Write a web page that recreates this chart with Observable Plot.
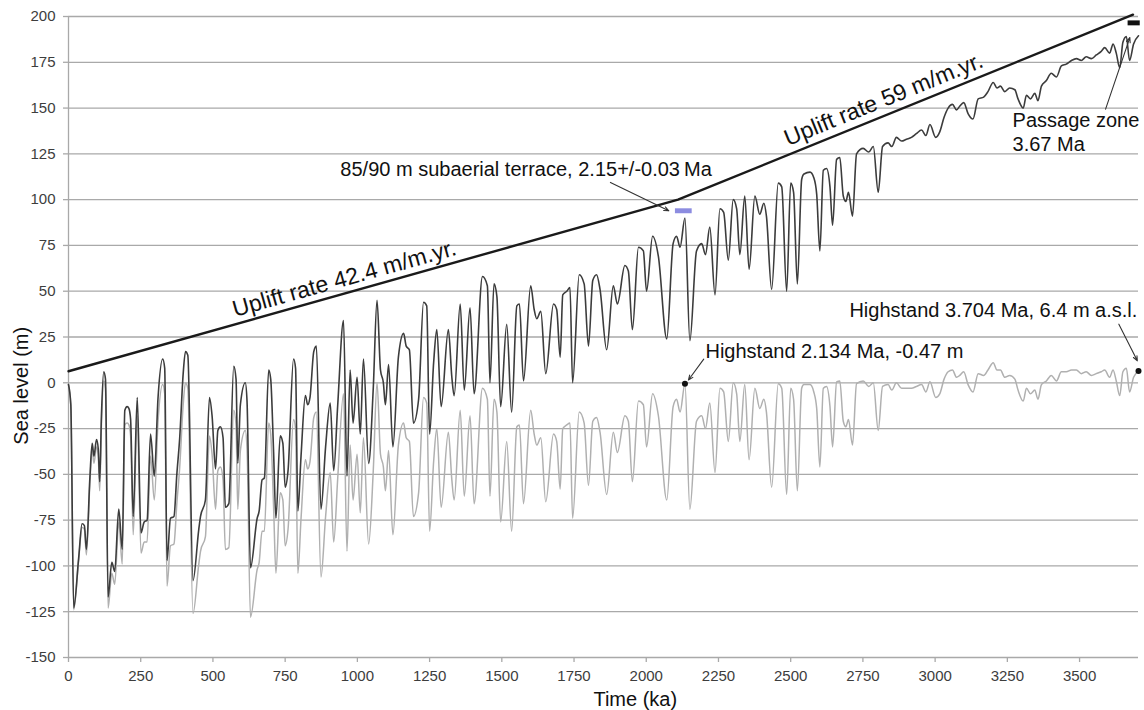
<!DOCTYPE html>
<html>
<head>
<meta charset="utf-8">
<script src="https://cdn.jsdelivr.net/npm/d3@7"></script>
<script src="https://cdn.jsdelivr.net/npm/@observablehq/plot@0.6"></script>
<style>
  html, body { margin: 0; padding: 0; background: #fff; }
  #chart svg { display: block; }
</style>
</head>
<body>
<div id="chart"></div>
<script>
// Time (ka)
const time = [
  0,8,18,35,47,55,62,74,82,88,
  97,103,108,114,122,128,137,150,160,174,
  186,195,203,209,215,224,238,251,262,272,
  284,297,310,326,333,341,353,365,375,385,
  397,405,413,431,451,457,474,488,497,509,
  517,526,535,543,555,572,580,586,595,612,
  618,630,653,660,670,678,693,700,710,718,
  733,742,750,760,779,786,794,805,820,828,
  836,849,858,874,890,906,918,932,952,964,
  975,985,999,1010,1021,1039,1055,1068,1080,1090,
  1097,1108,1123,1142,1160,1169,1180,1194,1212,1229,
  1240,1250,1264,1275,1290,1315,1327,1335,1356,1370,
  1390,1404,1433,1450,1459,1473,1483,1496,1517,1534,
  1552,1561,1575,1600,1612,1621,1635,1652,1679,1690,
  1702,1711,1725,1736,1745,1768,1785,1800,1815,1828,
  1840,1863,1886,1900,1926,1938,1952,1973,1990,2001,
  2022,2042,2071,2093,2105,2117,2134,2151,2174,2192,
  2205,2220,2238,2255,2268,2284,2301,2313,2324,2341,
  2356,2376,2393,2407,2416,2434,2457,2469,2486,2500,
  2510,2523,2538,2546,2567,2580,2590,2601,2613,2624,
  2636,2645,2659,2670,2682,2691,2700,2714,2728,2751,
  2770,2786,2803,2818,2837,2850,2866,2884,2901,2918,
  2935,2953,2968,2982,3002,3016,3031,3045,3060,3074,
  3085,3099,3114,3131,3149,3168,3183,3201,3214,3226,
  3241,3258,3276,3287,3305,3316,3330,3345,3356,3368,
  3385,3402,3420,3437,3454,3472,3489,3506,3523,3541,
  3558,3575,3587,3604,3616,3627,3639,3650,3662,3673,
  3687,3704
];

// Eustatic sea level (m) – light grey curve
const seaLevel = [
  -1,-12,-124,-97,-79,-80,-94,-55,-36,-44,
  -35,-40,-59,-23,1,-3,-123,-104,-110,-76,
  -99,-23,-22,-23,-29,-83,-18,-93,-87,-87,
  -40,-64,-21,-1,-6,-111,-89,-88,-66,-46,
  -12,0,-3,-126,-99,-92,-84,-29,-39,-69,
  -48,-46,-53,-91,-90,-15,-23,-69,-37,-26,
  -36,-128,-102,-98,-81,-81,-22,-28,-68,-104,
  -60,-64,-89,-80,-20,-25,-104,-74,-42,-47,
  -43,-19,-16,-106,-73,-49,-87,-52,-6,-92,
  -34,-64,-39,-71,-30,-88,-48,0,-39,-46,
  -59,-37,-83,-34,-22,-30,-32,-73,-60,-8,
  -11,-81,-43,-25,-68,-27,-53,-64,-15,-62,
  -18,-66,-3,-9,-62,-9,-16,-76,-32,-81,
  -24,-23,-66,-15,-28,-34,-30,-65,-28,-32,
  -58,-25,-23,-22,-74,-16,-22,-56,-21,-19,
  -27,-61,-27,-38,-18,-21,-54,-10,-12,-35,
  -6,-18,-64,-13,-9,-16,-0.47,-69,-21,-18,
  -25,-11,-49,-3,-5,-32,0,-6,-32,-1,
  -42,-3,-14,-9,-16,-57,-0.5,-3,-61,-3,
  -9,-59,-3,-1,-1,-5,-14,-46,-3,-2,
  -13,-35,0.5,1,-21,-24,-20,-34,-0.5,1,
  -2,0,-26,-2,-1,-4,0,-3,-3,-3,
  -2,-1,-5,0.5,-8,-6,2,6,7,3,
  4,6,-1,-5,5,4,7,11,7,7,
  3,4,2,-4,-10,-3,-6,-4,-9,-1,
  1,4,1,6,6,7,7,5,6,4,
  5,6,7,3,7,1,-7,6,8,-5,
  3,6.4
];

// Uplifted sea level (m) – dark grey curve
const upliftedSeaLevel = [
  -1,-12,-123,-96,-77,-78,-91,-52,-33,-40,
  -31,-36,-54,-18,6,2,-117,-98,-103,-69,
  -91,-15,-13,-14,-20,-73,-8,-82,-76,-75,
  -28,-51,-8,13,8,-97,-74,-73,-50,-30,
  5,17,15,-108,-80,-73,-64,-8,-18,-47,
  -26,-24,-30,-68,-66,9,2,-44,-12,0,
  -10,-101,-74,-70,-53,-52,7,2,-38,-74,
  -29,-33,-57,-48,13,8,-70,-40,-7,-12,
  -8,17,20,-69,-35,-11,-48,-12,34,-51,
  7,-22,3,-28,13,-44,-3,45,7,0,
  -12,10,-35,14,27,20,18,-22,-9,44,
  42,-28,11,29,-13,29,3,-7,43,-4,
  41,-6,58,53,0,54,47,-13,32,-16,
  42,43,1,53,40,35,39,5,43,40,
  14,48,50,52,0,59,54,20,56,59,
  51,18,53,43,64,61,29,74,72,50,
  80,69,24,76,80,74,90,23,72,76,
  70,85,48,95,93,67,100,95,70,102,
  62,102,92,98,91,51,109,107,50,109,
  104,54,111,114,115,112,103,72,116,117,
  107,86,122,123,102,99,104,91,125,128,
  126,129,104,129,131,129,134,132,133,134,
  136,138,135,141,134,137,145,150,152,149,
  151,153,147,144,155,156,159,164,161,162,
  159,161,160,155,150,157,155,158,154,162,
  165,169,167,173,174,176,177,176,178,177,
  179,181,183,180,185,180,172,186,189,176,
  185,189.5
];

// Uplift rate line (black)
const upliftTime = [0, 2110, 3685];
const upliftLevel = [6.3, 100, 201];

// Axis ticks
const xTicks = [0,250,500,750,1000,1250,1500,1750,2000,2250,2500,2750,3000,3250,3500];
const yTicks = [-150,-125,-100,-75,-50,-25,0,25,50,75,100,125,150,175,200];

// Highstand markers
const highstandTime = [2134, 3704];
const highstandLevel = [-0.47, 6.4];

const rows = time.map((t, i) => ({t, sea: seaLevel[i], up: upliftedSeaLevel[i]}));
const upliftRows = upliftTime.map((t, i) => ({t, v: upliftLevel[i]}));
const highstands = highstandTime.map((t, i) => ({t, v: highstandLevel[i]}));

const terrace = [{x1: 2101, x2: 2159, y1: 92.3, y2: 95.0}];
const passageBar = [{x1: 3668, x2: 3710, y1: 194.9, y2: 197.6}];

const arrows = [
  {x1: 1876, y1: 109.4, x2: 2078, y2: 93.9},
  {x1: 2199, y1: 12.9, x2: 2146, y2: 1.5},
  {x1: 3636, y1: 32, x2: 3700, y2: 12},
  {x1: 3590, y1: 149.4, x2: 3674, y2: 188.5}
];

const notesMiddle = [
  {t: 941, v: 116.5, text: "85/90 m subaerial terrace, 2.15+/-0.03\u2009Ma"},
  {t: 2205, v: 17.3, text: "Highstand 2.134 Ma, -0.47 m"}
];
const notesEnd = [
  {t: 3700, v: 39.2, text: "Highstand 3.704 Ma, 6.4 m a.s.l."}
];
const notesPassage = [
  {t: 3268, v: 139.4, text: "Passage zone"},
  {t: 3268, v: 126.7, text: "3.67 Ma"}
];
const rateLow = [{t: 962, v: 53, text: "Uplift rate 42.4 m/m.yr."}];
const rateHigh = [{t: 2831, v: 151, text: "Uplift rate 59 m/m.yr."}];

const fontFamily = "'Liberation Sans', Arial, sans-serif";

const chart = Plot.plot({
  width: 1144,
  height: 710,
  marginLeft: 68,
  marginRight: 6,
  marginTop: 16,
  marginBottom: 53,
  x: {domain: [0, 3704]},
  y: {domain: [-150, 200]},
  style: {fontFamily, background: "#fff", color: "#111"},
  marks: [
    Plot.gridY(yTicks, {stroke: "#a9a9a9", strokeOpacity: 1, strokeWidth: 1.3}),
    Plot.ruleX([0], {stroke: "#a9a9a9", strokeWidth: 1.3}),
    Plot.axisY(yTicks, {tickSize: 5, tickPadding: 8, fontSize: 15, fill: "#3d3d3d", stroke: "#a9a9a9", strokeWidth: 1.3, tickFormat: d => String(d), label: null}),
    Plot.axisX(xTicks, {tickSize: 5, tickPadding: 8, fontSize: 15, fill: "#3d3d3d", stroke: "#a9a9a9", strokeWidth: 1.3, tickFormat: d => String(d), label: null}),
    Plot.text([{t: 0, v: 0}], {x: "t", y: "v", text: () => "Sea level (m)", rotate: -90, dx: -47, dy: 3, fontSize: 20, fill: "#111", lineAnchor: "middle"}),
    Plot.text([{t: 1962, v: -150}], {x: "t", y: "v", text: () => "Time (ka)", dy: 42, fontSize: 20, fill: "#111", lineAnchor: "middle"}),
    Plot.line(rows, {x: "t", y: "sea", stroke: "#b0b0b0", strokeWidth: 1.5, curve: "monotone-x"}),
    Plot.line(rows, {x: "t", y: "up", stroke: "#3c3c3c", strokeWidth: 1.6, curve: "monotone-x"}),
    Plot.line(upliftRows, {x: "t", y: "v", stroke: "#1a1a1a", strokeWidth: 2.4}),
    Plot.rect(terrace, {x1: "x1", x2: "x2", y1: "y1", y2: "y2", fill: "#8c8ce0"}),
    Plot.rect(passageBar, {x1: "x1", x2: "x2", y1: "y1", y2: "y2", fill: "#111"}),
    Plot.arrow(arrows, {x1: "x1", y1: "y1", x2: "x2", y2: "y2", stroke: "#333", strokeWidth: 1.1, headLength: 7, headAngle: 45}),
    Plot.dot(highstands, {x: "t", y: "v", r: 3, fill: "#111"}),
    Plot.text(notesMiddle, {x: "t", y: "v", text: "text", textAnchor: "start", lineAnchor: "middle", fontSize: 20, fill: "#111"}),
    Plot.text(notesEnd, {x: "t", y: "v", text: "text", textAnchor: "end", lineAnchor: "middle", fontSize: 20, fill: "#111"}),
    Plot.text(notesPassage, {x: "t", y: "v", text: "text", textAnchor: "start", lineAnchor: "bottom", fontSize: 20, fill: "#111"}),
    Plot.text(rateLow, {x: "t", y: "v", text: "text", rotate: -15.7, textAnchor: "middle", lineAnchor: "bottom", fontSize: 23, fill: "#111"}),
    Plot.text(rateHigh, {x: "t", y: "v", text: "text", rotate: -22.1, textAnchor: "middle", lineAnchor: "bottom", fontSize: 23, fill: "#111"})
  ]
});

document.getElementById("chart").appendChild(chart);
</script>
</body>
</html>
